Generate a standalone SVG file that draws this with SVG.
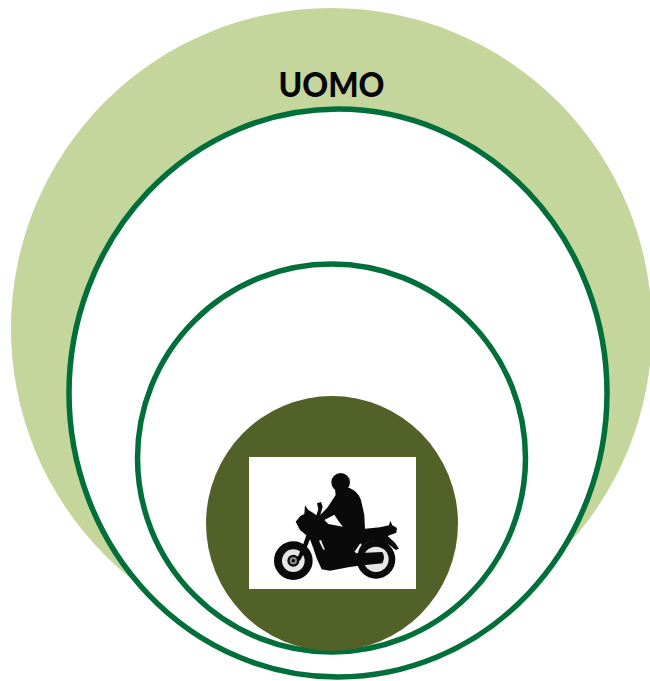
<svg xmlns="http://www.w3.org/2000/svg" width="650" height="681" viewBox="0 0 650 681">
<style>
.ring{fill:#fff;stroke:#006f3a;stroke-width:5.500}
.k{fill:#0a0a0a}
.spoke{fill:#e6e6e6}
text{font-family:"Lato","Open Sans","Liberation Sans",sans-serif;font-weight:900;font-size:34px;fill:#050505}
</style>
<rect width="650" height="681" fill="#fff"/>
<g id="outer"><circle cx="331.500" cy="328.500" r="320.500" fill="#c4d69c"/></g>
<g id="label"><text x="331.500" y="97" text-anchor="middle" textLength="106" lengthAdjust="spacingAndGlyphs">UOMO</text></g>
<g id="middle"><ellipse class="ring" cx="338" cy="393" rx="269" ry="284"/></g>
<g id="inner"><ellipse class="ring" cx="331.500" cy="458" rx="194" ry="194"/></g>
<g id="core"><ellipse cx="332" cy="523.500" rx="126" ry="127.500" fill="#526128"/></g>
<g id="motorcycle">
<rect x="249" y="457" width="167" height="132" fill="#fff"/>
<g transform="translate(245 450) scale(.3333)">
<circle class="k" cx="145" cy="332" r="58"/>
<circle class="spoke" cx="145" cy="332" r="34"/>
<circle class="k" cx="145" cy="332" r="18"/>
<circle fill="#8a8a8a" cx="145" cy="332" r="11"/>
<circle class="k" cx="145" cy="332" r="5"/>
<circle class="k" cx="393" cy="328" r="58"/>
<circle class="spoke" cx="393" cy="328" r="38"/>
<circle class="k" cx="287" cy="97" r="28"/>
<path class="k" d="M270 118 L312 113 Q338 122 348 150 L358 195 L360 236 L405 232 L432 226 L436 212 L442 226 L456 234 L454 248 L428 258 L450 278 L462 296 L452 300 Q425 272 385 272 Q358 274 345 298 L330 310 L412 306 Q422 322 412 340 L335 348 L310 352 L255 362 L230 358 L215 325 L205 295 L195 268 L183 298 L165 332 L155 328 L172 290 L184 256 L165 240 L152 215 L166 198 L178 192 L180 166 L190 180 L206 190 L214 196 L220 178 L216 160 L228 156 L233 170 L226 195 L248 172 L272 135 Z"/>
<path d="M238 210 L268 194 L284 218 L294 230 L250 222 Z" fill="#fff"/>
<path d="M222 272 L234 298 L240 300 L228 270 Z" fill="#f0f0f0"/>
<path d="M328 306 L346 280 L350 284 L336 308 Z" fill="#f0f0f0"/>
</g>
</g>
</svg>
